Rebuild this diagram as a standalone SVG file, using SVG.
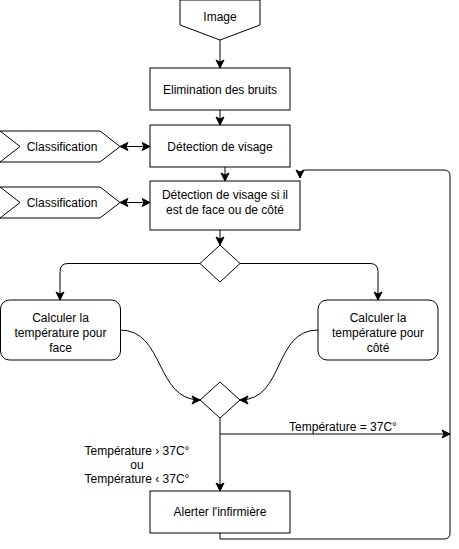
<svg xmlns="http://www.w3.org/2000/svg" width="459" height="549" viewBox="0 0 459 549">
<style>
.n{fill:#fff;stroke:#000;stroke-width:1}
.t{font-family:"Liberation Sans",Arial,sans-serif;font-size:12px;fill:#000;text-anchor:middle}
.e{fill:none;stroke:#000;stroke-width:1}
</style>
<defs>
<marker id="a" markerUnits="userSpaceOnUse" markerWidth="10" markerHeight="10" viewBox="0 0 10 10" refX="9" refY="5" orient="auto">
<path d="M1 1 L9 5 L1 9 L3 5 Z" fill="#000" stroke="#000"/>
</marker>
<marker id="s" markerUnits="userSpaceOnUse" markerWidth="10" markerHeight="10" viewBox="0 0 10 10" refX="1" refY="5" orient="auto">
<path d="M9 1 L1 5 L9 9 L7 5 Z" fill="#000" stroke="#000"/>
</marker>
</defs>
<rect width="459" height="549" fill="#fff"/>
<g id="connectors">
<path class="e" d="M220 40 V68" marker-end="url(#a)"/>
<path class="e" d="M220 110 V125" marker-end="url(#a)"/>
<path class="e" d="M225 167 V181" marker-end="url(#a)"/>
<path class="e" d="M120 146.5 H150" marker-start="url(#s)" marker-end="url(#a)"/>
<path class="e" d="M120 202.5 H150" marker-start="url(#s)" marker-end="url(#a)"/>
<path class="e" d="M220 230 V245" marker-end="url(#a)"/>
<path class="e" d="M200 263.5 H68 Q60 263.5 60 271.5 V300" marker-end="url(#a)"/>
<path class="e" d="M240 263.5 H370 Q378 263.5 378 271.5 V300" marker-end="url(#a)"/>
<path class="e" d="M120 330 C165 330 155 400 200 400" marker-end="url(#a)"/>
<path class="e" d="M318 330 C273 330 285 400 240 400" marker-end="url(#a)"/>
<path class="e" d="M220 418 V491" marker-end="url(#a)"/>
<path class="e" d="M220 434 H450" marker-end="url(#a)"/>
<path class="e" d="M220 533 V539 H444 Q450 539 450 533 V176 Q450 170 444 170 H306 Q300 170 300 176 V178" marker-end="url(#a)"/>
<text class="t" x="343" y="431">Température = 37C°</text>
<text class="t" x="137" y="455">Température › 37C°</text>
<text class="t" x="137" y="469">ou</text>
<text class="t" x="137" y="483">Température ‹ 37C°</text>
</g>
<g id="image">
<path class="n" d="M180 0 H260 V25 L220 40 L180 25 Z"/>
<text class="t" x="220" y="21">Image</text>
</g>
<g id="elimination">
<rect class="n" x="150" y="68" width="140" height="42"/>
<text class="t" x="220" y="94">Elimination des bruits</text>
</g>
<g id="detection">
<rect class="n" x="150" y="125" width="140" height="42"/>
<text class="t" x="220" y="151">Détection de visage</text>
</g>
<g id="classification1">
<path class="n" d="M0 131 H100 L120 146.5 L100 162 H0 L20 146.5 Z"/>
<text class="t" x="62" y="151">Classification</text>
</g>
<g id="classification2">
<path class="n" d="M0 187 H100 L120 202.5 L100 218 H0 L20 202.5 Z"/>
<text class="t" x="62" y="207">Classification</text>
</g>
<g id="detection2">
<rect class="n" x="150" y="181" width="150" height="49"/>
<text class="t" x="225" y="199">Détection de visage si il</text>
<text class="t" x="225" y="214">est de face ou de côté</text>
</g>
<g id="decision1">
<path class="n" d="M220 245 L240 263.5 L220 282 L200 263.5 Z"/>
</g>
<g id="face">
<rect class="n" x="0.5" y="300" width="120" height="60" rx="9"/>
<text class="t" x="60.5" y="322">Calculer la</text>
<text class="t" x="60.5" y="337">température pour</text>
<text class="t" x="60.5" y="352">face</text>
</g>
<g id="cote">
<rect class="n" x="318" y="300" width="120" height="60" rx="9"/>
<text class="t" x="378" y="322">Calculer la</text>
<text class="t" x="378" y="337">température pour</text>
<text class="t" x="378" y="352">côté</text>
</g>
<g id="decision2">
<path class="n" d="M220 382 L240 400 L220 418 L200 400 Z"/>
</g>
<g id="alerter">
<rect class="n" x="150" y="491" width="140" height="42"/>
<text class="t" x="220" y="516">Alerter l'infirmière</text>
</g>
</svg>
